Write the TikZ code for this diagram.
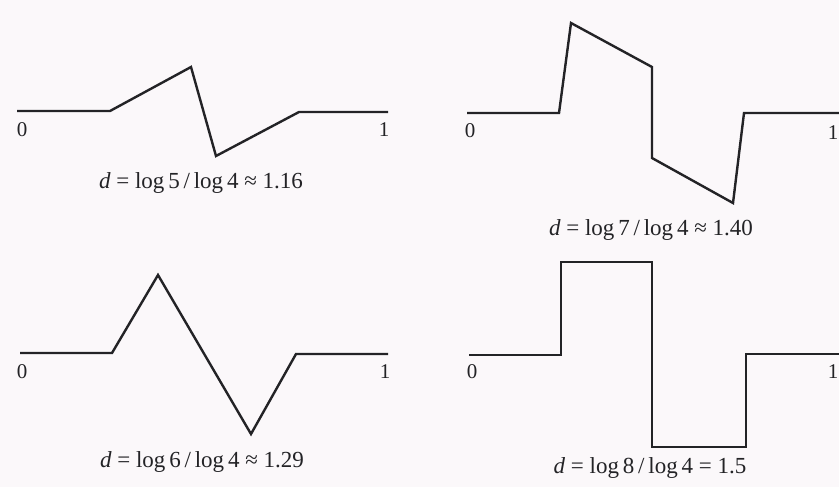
\documentclass[tikz,border=0pt]{standalone}
\usepackage{fontspec}
\setmainfont{Liberation Serif}
\definecolor{paper}{RGB}{251,248,250}
\definecolor{ink}{RGB}{35,35,38}
\begin{document}
\begin{tikzpicture}[x=0.5pt,y=-0.5pt,
  curve/.style={draw=ink,line width=1.2pt,line join=miter},
  endlabel/.style={text=ink,font=\fontsize{10.5}{12}\selectfont,inner sep=0pt},
  caption/.style={text=ink,font=\fontsize{11.5}{13}\selectfont,inner sep=0pt}]
\fill[paper] (0,0) rectangle (839,487);
\useasboundingbox (0,0) rectangle (839,487);
% panel 1
\coordinate (a0) at (17,111);
\coordinate (a1) at (110,111);
\coordinate (a2) at (191,67);
\coordinate (a3) at (216,156);
\coordinate (a4) at (299,112);
\coordinate (a5) at (388,112);
\draw[curve] (a0) -- (a1) -- (a2) -- (a3) -- (a4) -- (a5);
\node[endlabel] (a00) at (22,130) {0};
\node[endlabel] (a01) at (384,130) {1};
\node[caption] (acap) at (201,183) {\textit{d} = log\,5\,/\,log\,4 ≈ 1.16};
% panel 2
\coordinate (b0) at (467,113);
\coordinate (b1) at (559,113);
\coordinate (b2) at (571,23);
\coordinate (b3) at (652,67);
\coordinate (b4) at (652,158);
\coordinate (b5) at (733,203);
\coordinate (b6) at (744,113);
\coordinate (b7) at (839,113);
\draw[curve] (b0) -- (b1) -- (b2) -- (b3) -- (b4) -- (b5) -- (b6) -- (b7);
\node[endlabel] (b00) at (470,131) {0};
\node[endlabel] (b01) at (833,133) {1};
\node[caption] (bcap) at (651,230) {\textit{d} = log\,7\,/\,log\,4 ≈ 1.40};
% panel 3
\coordinate (c0) at (20,353);
\coordinate (c1) at (112,353);
\coordinate (c2) at (158,275);
\coordinate (c3) at (251,434);
\coordinate (c4) at (296,354);
\coordinate (c5) at (388,354);
\draw[curve] (c0) -- (c1) -- (c2) -- (c3) -- (c4) -- (c5);
\node[endlabel] (c00) at (22,372) {0};
\node[endlabel] (c01) at (385,372) {1};
\node[caption] (ccap) at (202,462) {\textit{d} = log\,6\,/\,log\,4 ≈ 1.29};
% panel 4
\coordinate (d0) at (469,355);
\coordinate (d1) at (561,355);
\coordinate (d2) at (561,262);
\coordinate (d3) at (652,262);
\coordinate (d4) at (652,447);
\coordinate (d5) at (746,447);
\coordinate (d6) at (746,354);
\coordinate (d7) at (839,354);
\draw[curve] (d0) -- (d1) -- (d2) -- (d3) -- (d4) -- (d5) -- (d6) -- (d7);
\node[endlabel] (d00) at (472,372) {0};
\node[endlabel] (d01) at (833,372) {1};
\node[caption] (dcap) at (650,468) {\textit{d} = log\,8\,/\,log\,4 = 1.5};
\end{tikzpicture}
\end{document}
